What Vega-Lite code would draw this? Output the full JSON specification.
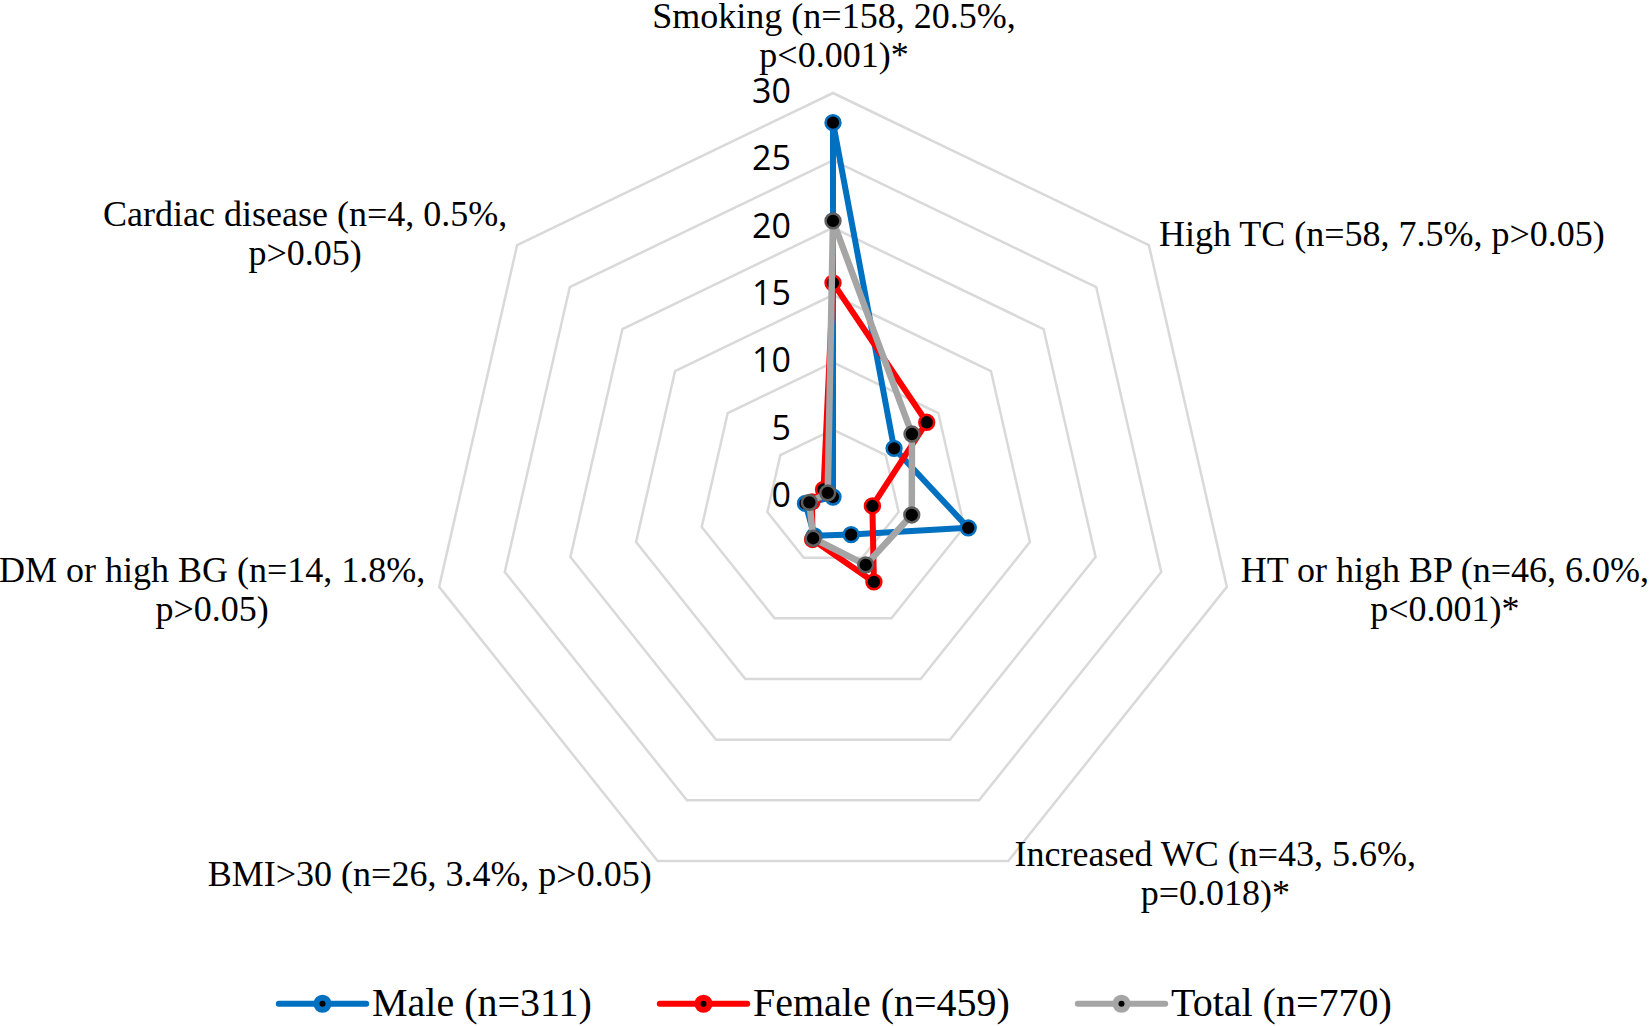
{
  "$schema": "https://vega.github.io/schema/vega-lite/v6.json",
  "width": 1650,
  "height": 1026,
  "autosize": {"type": "none"},
  "padding": 0,
  "background": "white",
  "config": {"view": {"stroke": null}},
  "datasets": {
    "series": [
      {"group": "Male (n=311)", "cat": "Smoking", "idx": 0, "value": 27.8},
      {"group": "Male (n=311)", "cat": "High TC", "idx": 1, "value": 5.8},
      {"group": "Male (n=311)", "cat": "HT or high BP", "idx": 2, "value": 10.3},
      {"group": "Male (n=311)", "cat": "Increased WC", "idx": 3, "value": 3.1},
      {"group": "Male (n=311)", "cat": "BMI>30", "idx": 4, "value": 3.2},
      {"group": "Male (n=311)", "cat": "DM or high BG", "idx": 5, "value": 2.1},
      {"group": "Male (n=311)", "cat": "Cardiac disease", "idx": 6, "value": 0},
      {"group": "Female (n=459)", "cat": "Smoking", "idx": 0, "value": 15.9},
      {"group": "Female (n=459)", "cat": "High TC", "idx": 1, "value": 8.9},
      {"group": "Female (n=459)", "cat": "HT or high BP", "idx": 2, "value": 3.0},
      {"group": "Female (n=459)", "cat": "Increased WC", "idx": 3, "value": 7.0},
      {"group": "Female (n=459)", "cat": "BMI>30", "idx": 4, "value": 3.5},
      {"group": "Female (n=459)", "cat": "DM or high BG", "idx": 5, "value": 1.6},
      {"group": "Female (n=459)", "cat": "Cardiac disease", "idx": 6, "value": 0.9},
      {"group": "Total (n=770)", "cat": "Smoking", "idx": 0, "value": 20.5},
      {"group": "Total (n=770)", "cat": "High TC", "idx": 1, "value": 7.5},
      {"group": "Total (n=770)", "cat": "HT or high BP", "idx": 2, "value": 6.0},
      {"group": "Total (n=770)", "cat": "Increased WC", "idx": 3, "value": 5.6},
      {"group": "Total (n=770)", "cat": "BMI>30", "idx": 4, "value": 3.4},
      {"group": "Total (n=770)", "cat": "DM or high BG", "idx": 5, "value": 1.8},
      {"group": "Total (n=770)", "cat": "Cardiac disease", "idx": 6, "value": 0.5}
    ],
    "rings": [
      {"level": 5, "idx": [0, 1, 2, 3, 4, 5, 6]},
      {"level": 10, "idx": [0, 1, 2, 3, 4, 5, 6]},
      {"level": 15, "idx": [0, 1, 2, 3, 4, 5, 6]},
      {"level": 20, "idx": [0, 1, 2, 3, 4, 5, 6]},
      {"level": 25, "idx": [0, 1, 2, 3, 4, 5, 6]},
      {"level": 30, "idx": [0, 1, 2, 3, 4, 5, 6]}
    ],
    "ticks": [
      {"level": 0}, {"level": 5}, {"level": 10}, {"level": 15},
      {"level": 20}, {"level": 25}, {"level": 30}
    ],
    "labels": [
      {"idx": 0, "label": "Smoking (n=158, 20.5%,\np<0.001)*"},
      {"idx": 1, "label": "High TC (n=58, 7.5%, p>0.05)"},
      {"idx": 2, "label": "HT or high BP (n=46, 6.0%,\np<0.001)*"},
      {"idx": 3, "label": "Increased WC (n=43, 5.6%,\np=0.018)*"},
      {"idx": 4, "label": "BMI>30 (n=26, 3.4%, p>0.05)"},
      {"idx": 5, "label": "DM or high BG (n=14, 1.8%,\np>0.05)"},
      {"idx": 6, "label": "Cardiac disease (n=4, 0.5%,\np>0.05)"}
    ]
  },
  "encoding": {
    "x": {"field": "px", "type": "quantitative", "scale": {"domain": [-61.856, 60.668], "nice": false, "zero": false}, "axis": null},
    "y": {"field": "py", "type": "quantitative", "scale": {"domain": [-39.282, 36.906], "nice": false, "zero": false}, "axis": null}
  },
  "layer": [
    {
      "data": {"name": "rings"},
      "transform": [
        {"flatten": ["idx"]},
        {"calculate": "datum.level * sin(datum.idx * 2 * PI / 7)", "as": "px"},
        {"calculate": "datum.level * cos(datum.idx * 2 * PI / 7)", "as": "py"}
      ],
      "mark": {"type": "line", "interpolate": "linear-closed", "stroke": "#D9D9D9", "strokeWidth": 2.5},
      "encoding": {"detail": {"field": "level", "type": "nominal"}, "order": {"field": "idx"}}
    },
    {
      "data": {"name": "ticks"},
      "transform": [
        {"calculate": "0", "as": "px"},
        {"calculate": "datum.level", "as": "py"}
      ],
      "mark": {"type": "text", "font": "Open Sans", "fontSize": 34, "align": "right", "baseline": "middle", "dx": -42, "color": "black"},
      "encoding": {"text": {"field": "level", "type": "quantitative"}}
    },
    {
      "data": {"name": "series"},
      "transform": [
        {"filter": "datum.group === 'Male (n=311)'"},
        {"calculate": "datum.value * sin(datum.idx * 2 * PI / 7)", "as": "px"},
        {"calculate": "datum.value * cos(datum.idx * 2 * PI / 7)", "as": "py"}
      ],
      "mark": {"type": "line", "interpolate": "linear-closed", "strokeWidth": 6, "strokeJoin": "round"},
      "encoding": {
        "order": {"field": "idx"},
        "stroke": {
          "field": "group", "type": "nominal",
          "scale": {"domain": ["Male (n=311)", "Female (n=459)", "Total (n=770)"], "range": ["#0070C0", "#FF0000", "#A5A5A5"]},
          "legend": {
            "title": null, "orient": "none", "direction": "horizontal",
            "legendX": 273, "legendY": 954,
            "symbolType": "M-0.94,0L-0.13,0M0.13,0L0.94,0M0.13,0A0.13,0.13,0,1,1,-0.13,0A0.13,0.13,0,1,1,0.13,0Z",
            "symbolSize": 8649, "symbolStrokeWidth": 6, "symbolFillColor": "black",
            "labelFont": "Liberation Serif", "labelFontSize": 40, "labelColor": "black",
            "labelOffset": 0, "columnPadding": 55, "labelLimit": 0,
            "encode": {"symbols": {"update": {"fill": {"value": "black"}, "strokeCap": {"value": "round"}, "opacity": {"value": 1}}}}
          }
        }
      }
    },
    {
      "data": {"name": "series"},
      "transform": [
        {"filter": "datum.group === 'Male (n=311)'"},
        {"calculate": "datum.value * sin(datum.idx * 2 * PI / 7)", "as": "px"},
        {"calculate": "datum.value * cos(datum.idx * 2 * PI / 7)", "as": "py"}
      ],
      "mark": {"type": "point", "shape": "circle", "filled": false, "fill": "black", "fillOpacity": 1, "stroke": "#0070C0", "strokeWidth": 2.5, "size": 220, "opacity": 1}
    },
    {
      "data": {"name": "series"},
      "transform": [
        {"filter": "datum.group === 'Female (n=459)'"},
        {"calculate": "datum.value * sin(datum.idx * 2 * PI / 7)", "as": "px"},
        {"calculate": "datum.value * cos(datum.idx * 2 * PI / 7)", "as": "py"}
      ],
      "mark": {"type": "line", "interpolate": "linear-closed", "strokeWidth": 6, "strokeJoin": "round"},
      "encoding": {"order": {"field": "idx"}, "stroke": {"field": "group", "type": "nominal"}}
    },
    {
      "data": {"name": "series"},
      "transform": [
        {"filter": "datum.group === 'Female (n=459)'"},
        {"calculate": "datum.value * sin(datum.idx * 2 * PI / 7)", "as": "px"},
        {"calculate": "datum.value * cos(datum.idx * 2 * PI / 7)", "as": "py"}
      ],
      "mark": {"type": "point", "shape": "circle", "filled": false, "fill": "black", "fillOpacity": 1, "stroke": "#FF0000", "strokeWidth": 2.5, "size": 220, "opacity": 1}
    },
    {
      "data": {"name": "series"},
      "transform": [
        {"filter": "datum.group === 'Total (n=770)'"},
        {"calculate": "datum.value * sin(datum.idx * 2 * PI / 7)", "as": "px"},
        {"calculate": "datum.value * cos(datum.idx * 2 * PI / 7)", "as": "py"}
      ],
      "mark": {"type": "line", "interpolate": "linear-closed", "strokeWidth": 6.5, "strokeJoin": "round"},
      "encoding": {"order": {"field": "idx"}, "stroke": {"field": "group", "type": "nominal"}}
    },
    {
      "data": {"name": "series"},
      "transform": [
        {"filter": "datum.group === 'Total (n=770)'"},
        {"calculate": "datum.value * sin(datum.idx * 2 * PI / 7)", "as": "px"},
        {"calculate": "datum.value * cos(datum.idx * 2 * PI / 7)", "as": "py"}
      ],
      "mark": {"type": "point", "shape": "circle", "filled": false, "fill": "black", "fillOpacity": 1, "stroke": "#5F5F5F", "strokeWidth": 2.5, "size": 220, "opacity": 1}
    },
    {
      "data": {"name": "labels"},
      "transform": [
        {"filter": "datum.idx === 0"},
        {"calculate": "30 * sin(datum.idx * 2 * PI / 7)", "as": "px"},
        {"calculate": "30 * cos(datum.idx * 2 * PI / 7)", "as": "py"}
      ],
      "mark": {"type": "text", "font": "Liberation Serif", "fontSize": 36, "lineHeight": 39, "lineBreak": "\n", "align": "center", "baseline": "middle", "dx": 1, "dy": -76, "color": "black"},
      "encoding": {"text": {"field": "label", "type": "nominal"}}
    },
    {
      "data": {"name": "labels"},
      "transform": [
        {"filter": "datum.idx === 1"},
        {"calculate": "30 * sin(datum.idx * 2 * PI / 7)", "as": "px"},
        {"calculate": "30 * cos(datum.idx * 2 * PI / 7)", "as": "py"}
      ],
      "mark": {"type": "text", "font": "Liberation Serif", "fontSize": 36, "lineHeight": 39, "lineBreak": "\n", "align": "center", "baseline": "middle", "dx": 233, "dy": -10, "color": "black"},
      "encoding": {"text": {"field": "label", "type": "nominal"}}
    },
    {
      "data": {"name": "labels"},
      "transform": [
        {"filter": "datum.idx === 2"},
        {"calculate": "30 * sin(datum.idx * 2 * PI / 7)", "as": "px"},
        {"calculate": "30 * cos(datum.idx * 2 * PI / 7)", "as": "py"}
      ],
      "mark": {"type": "text", "font": "Liberation Serif", "fontSize": 36, "lineHeight": 39, "lineBreak": "\n", "align": "center", "baseline": "middle", "dx": 218, "dy": -16, "color": "black"},
      "encoding": {"text": {"field": "label", "type": "nominal"}}
    },
    {
      "data": {"name": "labels"},
      "transform": [
        {"filter": "datum.idx === 3"},
        {"calculate": "30 * sin(datum.idx * 2 * PI / 7)", "as": "px"},
        {"calculate": "30 * cos(datum.idx * 2 * PI / 7)", "as": "py"}
      ],
      "mark": {"type": "text", "font": "Liberation Serif", "fontSize": 36, "lineHeight": 39, "lineBreak": "\n", "align": "center", "baseline": "middle", "dx": 207, "dy": -6, "color": "black"},
      "encoding": {"text": {"field": "label", "type": "nominal"}}
    },
    {
      "data": {"name": "labels"},
      "transform": [
        {"filter": "datum.idx === 4"},
        {"calculate": "30 * sin(datum.idx * 2 * PI / 7)", "as": "px"},
        {"calculate": "30 * cos(datum.idx * 2 * PI / 7)", "as": "py"}
      ],
      "mark": {"type": "text", "font": "Liberation Serif", "fontSize": 36, "lineHeight": 39, "lineBreak": "\n", "align": "center", "baseline": "middle", "dx": -228, "dy": 14, "color": "black"},
      "encoding": {"text": {"field": "label", "type": "nominal"}}
    },
    {
      "data": {"name": "labels"},
      "transform": [
        {"filter": "datum.idx === 5"},
        {"calculate": "30 * sin(datum.idx * 2 * PI / 7)", "as": "px"},
        {"calculate": "30 * cos(datum.idx * 2 * PI / 7)", "as": "py"}
      ],
      "mark": {"type": "text", "font": "Liberation Serif", "fontSize": 36, "lineHeight": 39, "lineBreak": "\n", "align": "center", "baseline": "middle", "dx": -227, "dy": -16, "color": "black"},
      "encoding": {"text": {"field": "label", "type": "nominal"}}
    },
    {
      "data": {"name": "labels"},
      "transform": [
        {"filter": "datum.idx === 6"},
        {"calculate": "30 * sin(datum.idx * 2 * PI / 7)", "as": "px"},
        {"calculate": "30 * cos(datum.idx * 2 * PI / 7)", "as": "py"}
      ],
      "mark": {"type": "text", "font": "Liberation Serif", "fontSize": 36, "lineHeight": 39, "lineBreak": "\n", "align": "center", "baseline": "middle", "dx": -212, "dy": -30, "color": "black"},
      "encoding": {"text": {"field": "label", "type": "nominal"}}
    }
  ]
}
